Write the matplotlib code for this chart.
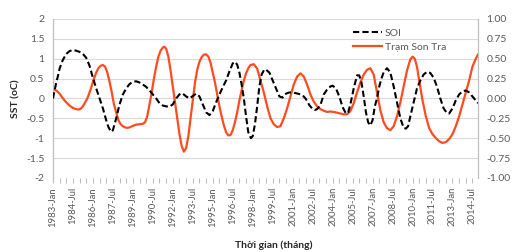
import matplotlib
matplotlib.use("Agg")
import matplotlib.pyplot as plt

plt.rcParams["font.family"] = ["Lato", "DejaVu Sans"]

# month index: 0 = 1983-Jan ... 383 = 2014-Dec
son_tra_month = [0, 3, 6, 9, 12, 15, 18, 21, 23, 25, 27, 29, 31, 33, 35, 37, 39, 41, 43, 45,
                 47, 49, 51, 53, 55, 57, 59, 61, 63, 65, 67, 69, 72, 75, 78, 81, 83, 85, 87, 89,
                 91, 93, 95, 97, 99, 100.5, 102, 104, 106, 108, 110, 112, 114, 116, 118, 120, 122,
                 124, 126, 128, 130, 132, 134, 136, 138, 140, 142, 144, 146, 148, 150, 152, 154,
                 156, 158, 160, 162, 164, 166, 168, 170, 172, 174, 176, 178, 181, 184, 187, 190,
                 193, 196, 199, 202, 205, 208, 211, 214, 217, 220, 223, 226, 229, 232, 235, 238,
                 241, 244, 247, 250, 253, 256, 259, 262, 265, 268, 271, 274, 277, 280, 283, 286,
                 289, 291, 293, 295, 298, 301, 304, 307, 310, 313, 316, 319, 322, 324, 326, 328,
                 330, 333, 336, 339, 342, 345, 348, 351, 354, 357, 360, 363, 366, 369, 372, 375,
                 378, 381, 383]
son_tra_sst = [0.22, 0.2, 0.12, 0.0, -0.1, -0.18, -0.24, -0.27, -0.28, -0.26, -0.2, -0.1, 0.0,
               0.15, 0.32, 0.5, 0.65, 0.76, 0.82, 0.84, 0.8, 0.65, 0.42, 0.15, -0.15, -0.35,
               -0.55, -0.65, -0.7, -0.73, -0.74, -0.73, -0.69, -0.66, -0.65, -0.64, -0.6, -0.45,
               -0.15, 0.15, 0.5, 0.8, 1.05, 1.2, 1.28, 1.3, 1.25, 1.05, 0.7, 0.3, -0.1, -0.5,
               -0.9, -1.2, -1.34, -1.25, -0.95, -0.5, -0.05, 0.4, 0.72, 0.92, 1.04, 1.1, 1.11,
               1.05, 0.9, 0.65, 0.4, 0.1, -0.2, -0.45, -0.68, -0.85, -0.93, -0.92, -0.8, -0.6,
               -0.35, -0.05, 0.2, 0.45, 0.63, 0.76, 0.84, 0.86, 0.75, 0.45, 0.15, -0.2, -0.5,
               -0.65, -0.72, -0.7, -0.5, -0.25, 0.05, 0.35, 0.55, 0.63, 0.55, 0.35, 0.1, -0.08,
               -0.2, -0.27, -0.31, -0.34, -0.33, -0.34, -0.36, -0.38, -0.4, -0.4, -0.32, -0.12,
               0.15, 0.4, 0.6, 0.72, 0.76, 0.6, 0.3, 0.0, -0.3, -0.6, -0.75, -0.8, -0.7, -0.45,
               -0.1, 0.3, 0.7, 0.98, 1.05, 1.0, 0.8, 0.45, -0.05, -0.45, -0.75, -0.9, -1.0,
               -1.08, -1.12, -1.1, -1.02, -0.9, -0.7, -0.45, -0.15, 0.15, 0.45, 0.8, 1.0, 1.1]

soi_month = [0, 3, 4.3, 6, 8.8, 12, 15, 18, 21, 24, 27, 30, 33, 36, 39, 42, 45, 48, 50, 52.4,
             54, 57, 60, 63, 66, 69, 72, 75, 78, 81, 84, 87, 90, 93, 96, 99, 102, 105, 108, 111,
             114, 115.5, 117, 120, 123, 126, 129, 132, 135, 138, 141, 144, 147, 150, 153, 156,
             159, 162, 164, 166, 168, 170, 172, 174, 176, 178.4, 180, 182, 184, 186, 188, 190.5,
             192, 195, 198, 201, 204, 207, 210, 213, 216, 219, 222, 225, 228, 231, 234, 236,
             238, 241, 244, 247, 250, 252, 255, 258, 261, 264, 266, 268, 271, 274, 276, 278,
             280, 282, 284, 286, 288, 290, 292, 294, 296, 298, 301, 304, 307, 310, 313, 316,
             318, 320, 322, 325, 328, 331, 334, 337, 340, 343, 346, 349, 352, 355, 357, 360,
             363, 366, 369, 372, 375, 378, 381, 383]
# SOI read on the right axis (-1..1)
soi_value = [0.0, 0.2, 0.27, 0.375, 0.48, 0.56, 0.595, 0.61, 0.6, 0.585, 0.56, 0.51, 0.41,
             0.26, 0.125, 0.0, -0.125, -0.275, -0.36, -0.42, -0.4, -0.25, -0.075, 0.05, 0.125,
             0.18, 0.21, 0.215, 0.2, 0.175, 0.145, 0.1, 0.05, 0.0, -0.06, -0.09, -0.1, -0.105,
             -0.075, 0.0, 0.05, 0.065, 0.06, 0.025, 0.0, 0.03, 0.06, 0.025, -0.075, -0.175,
             -0.21, -0.16, -0.05, 0.05, 0.14, 0.225, 0.34, 0.44, 0.46, 0.425, 0.325, 0.175,
             0.0, -0.225, -0.425, -0.5, -0.475, -0.325, -0.1, 0.15, 0.3, 0.365, 0.36, 0.325,
             0.225, 0.125, 0.025, 0.01, 0.06, 0.075, 0.075, 0.065, 0.055, 0.04, -0.01, -0.085,
             -0.135, -0.145, -0.135, -0.085, 0.05, 0.11, 0.15, 0.16, 0.125, 0.025, -0.11,
             -0.19, -0.175, -0.075, 0.125, 0.29, 0.29, 0.2, 0.025, -0.175, -0.3, -0.34, -0.275,
             -0.1, 0.0, 0.15, 0.25, 0.33, 0.38, 0.325, 0.15, -0.05, -0.25, -0.37, -0.38, -0.35,
             -0.225, -0.05, 0.125, 0.225, 0.3, 0.335, 0.32, 0.26, 0.15, 0.0, -0.125, -0.185,
             -0.19, -0.125, -0.025, 0.05, 0.09, 0.1, 0.075, 0.025, -0.025, -0.06]

tick_labels = ["1983-Jan", "1984-Jul", "1986-Jan", "1987-Jul", "1989-Jan", "1990-Jul",
               "1992-Jan", "1993-Jul", "1995-Jan", "1996-Jul", "1998-Jan", "1999-Jul",
               "2001-Jan", "2002-Jul", "2004-Jan", "2005-Jul", "2007-Jan", "2008-Jul",
               "2010-Jan", "2011-Jul", "2013-Jan", "2014-Jul"]

grey = "#595959"
red = "#FF4B1F"

fig = plt.figure(figsize=(5.14, 2.52), dpi=100)
ax = fig.add_axes([0.103, 0.294, 0.827, 0.631])
ax2 = ax.twinx()

ax.plot(son_tra_month, son_tra_sst, color=red, linewidth=1.6, label="Trạm Son Tra", zorder=3)
ax2.plot(soi_month, soi_value, color="black", linewidth=1.5, linestyle=(0, (3, 1.5)),
         label="SOI", zorder=3)

ax.set_ylim(-2, 2)
ax.set_yticks([-2, -1.5, -1, -0.5, 0, 0.5, 1, 1.5, 2])
ax.set_yticklabels(["-2", "-1.5", "-1", "-0.5", "0", "0.5", "1", "1.5", "2"])
ax2.set_ylim(-1, 1)
ax2.set_yticks([-1, -0.75, -0.5, -0.25, 0, 0.25, 0.5, 0.75, 1])
ax2.set_yticklabels(["{:.2f}".format(v) for v in [-1, -0.75, -0.5, -0.25, 0, 0.25, 0.5, 0.75, 1]])

ax.set_xlim(0, 383)
ticks = list(range(0, 384, 6))
ax.set_xticks(ticks)
labels = []
for t in ticks:
    labels.append(tick_labels[t // 18] if t % 18 == 0 else "")
ax.set_xticklabels(labels, rotation=90)

ax.grid(True, axis="y", color="#D9D9D9", linewidth=0.8)
ax.set_axisbelow(True)

for a in (ax, ax2):
    a.spines["top"].set_visible(False)
    a.spines["bottom"].set_visible(False)
    a.spines["left"].set_color("#BFBFBF")
    a.spines["right"].set_color("#BFBFBF")
    a.tick_params(labelsize=7.5, colors=grey)
ax.tick_params(axis="y", length=0, pad=6)
ax2.tick_params(axis="y", length=0, pad=6)
ax.tick_params(axis="x", length=3.5, color="#BFBFBF", pad=3, labelsize=6.8)

ax.set_ylabel("SST (oC)", fontsize=7.5, fontweight="bold", color="#262626", labelpad=4)
fig.text(0.533, 0.025, "Thời gian (tháng)", fontsize=7.5, fontweight="bold", color="#262626",
         ha="center", va="center")

h1, l1 = ax2.get_legend_handles_labels()
h2, l2 = ax.get_legend_handles_labels()
ax2.legend(h1 + h2, l1 + l2, loc="upper right", bbox_to_anchor=(0.94, 0.98), frameon=False,
           fontsize=7.5, handlelength=2.8, handletextpad=0.3, labelcolor=grey,
           borderaxespad=0.2)

fig.savefig("out.png", dpi=100, facecolor="white")
plt.close(fig)
